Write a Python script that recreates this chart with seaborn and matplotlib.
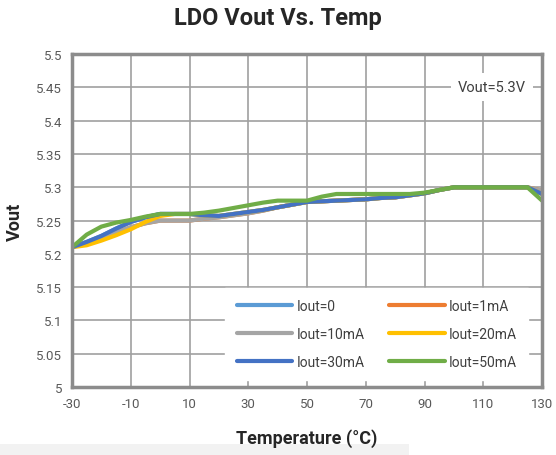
import numpy as np
import pandas as pd
import matplotlib.pyplot as plt
import seaborn as sns
from matplotlib.patches import Rectangle

# temperature sweep (deg C)
temp = list(range(-30, 131, 5))

vout_0ma = [5.210, 5.218, 5.227, 5.238, 5.248, 5.255, 5.260, 5.260, 5.260, 5.258, 5.257,
            5.260, 5.263, 5.266, 5.270, 5.274, 5.278, 5.279, 5.280, 5.281, 5.282, 5.284,
            5.285, 5.288, 5.291, 5.296, 5.300, 5.300, 5.300, 5.300, 5.300, 5.300, 5.290]
vout_1ma = [5.210, 5.217, 5.225, 5.232, 5.240, 5.246, 5.250, 5.250, 5.250, 5.253, 5.255,
            5.258, 5.261, 5.265, 5.270, 5.274, 5.278, 5.279, 5.280, 5.281, 5.282, 5.284,
            5.285, 5.288, 5.291, 5.296, 5.300, 5.300, 5.300, 5.300, 5.300, 5.300, 5.295]
vout_10ma = [5.210, 5.217, 5.225, 5.232, 5.240, 5.246, 5.250, 5.250, 5.250, 5.253, 5.255,
             5.258, 5.261, 5.265, 5.270, 5.274, 5.278, 5.279, 5.280, 5.281, 5.282, 5.284,
             5.285, 5.288, 5.291, 5.296, 5.300, 5.300, 5.300, 5.300, 5.300, 5.300, 5.295]
vout_20ma = [5.210, 5.213, 5.220, 5.228, 5.237, 5.248, 5.257, 5.260, 5.260, 5.258, 5.257,
             5.260, 5.263, 5.266, 5.270, 5.274, 5.278, 5.279, 5.280, 5.281, 5.282, 5.284,
             5.285, 5.288, 5.291, 5.296, 5.300, 5.300, 5.300, 5.300, 5.300, 5.300, 5.290]
vout_30ma = [5.210, 5.218, 5.227, 5.238, 5.248, 5.255, 5.260, 5.260, 5.260, 5.258, 5.257,
             5.260, 5.263, 5.266, 5.270, 5.274, 5.278, 5.279, 5.280, 5.281, 5.282, 5.284,
             5.285, 5.288, 5.291, 5.296, 5.300, 5.300, 5.300, 5.300, 5.300, 5.300, 5.290]
vout_50ma = [5.210, 5.229, 5.241, 5.247, 5.251, 5.256, 5.260, 5.260, 5.260, 5.262, 5.265,
             5.269, 5.273, 5.277, 5.280, 5.280, 5.280, 5.286, 5.290, 5.290, 5.290, 5.290,
             5.290, 5.290, 5.292, 5.296, 5.300, 5.300, 5.300, 5.300, 5.300, 5.300, 5.280]

series = ["Iout=0", "Iout=1mA", "Iout=10mA", "Iout=20mA", "Iout=30mA", "Iout=50mA"]
values = [vout_0ma, vout_1ma, vout_10ma, vout_20ma, vout_30ma, vout_50ma]
colors = ["#5B9BD5", "#ED7D31", "#A5A5A5", "#FFC000", "#4472C4", "#70AD47"]

x_ticks = list(range(-30, 131, 20))
y_ticks = [5, 5.05, 5.1, 5.15, 5.2, 5.25, 5.3, 5.35, 5.4, 5.45, 5.5]
y_ticklabels = ["5", "5.05", "5.1", "5.15", "5.2", "5.25", "5.3", "5.35", "5.4", "5.45", "5.5"]

df = pd.DataFrame({
    "temp": temp * len(series),
    "vout": np.concatenate(values),
    "load": np.repeat(series, len(temp)),
})

sns.set_style("white")
plt.rcParams["font.family"] = ["Roboto", "DejaVu Sans"]

fig = plt.figure(figsize=(5.56, 4.56), dpi=100)
ax = fig.add_axes([0.1295, 0.149, 0.8455, 0.730])

sns.lineplot(data=df, x="temp", y="vout", hue="load", hue_order=series,
             palette=colors, linewidth=3, ax=ax, legend=True)

ax.set_xlim(-30, 130)
ax.set_ylim(5, 5.5)
ax.set_xticks(x_ticks)
ax.set_xticklabels([str(t) for t in x_ticks])
ax.set_yticks(y_ticks)
ax.set_yticklabels(y_ticklabels)
ax.tick_params(axis="both", labelsize=9.5, colors="#595959", length=0, pad=7)
ax.grid(True, color="#A0A0A0", linewidth=1.2)
ax.set_axisbelow(True)
for sp in ax.spines.values():
    sp.set_color("#8C8C8C")
    sp.set_linewidth(2.5)

ax.set_xlabel("Temperature (°C)", fontsize=13, fontweight="bold", labelpad=13)
ax.set_ylabel("Vout", fontsize=13, fontweight="bold", labelpad=9)
fig.suptitle("LDO Vout Vs. Temp", fontsize=17, fontweight="bold", y=0.985)

ax.text(113, 5.45, "Vout=5.3V", fontsize=10.5, color="#404040", ha="center", va="center",
        bbox=dict(facecolor="white", edgecolor="none", pad=5))

handles, labels = ax.get_legend_handles_labels()
order = [0, 2, 4, 1, 3, 5]
leg = ax.legend([handles[i] for i in order], [labels[i] for i in order], ncol=2,
                loc="lower right", bbox_to_anchor=(0.985, 0.0), frameon=True,
                fancybox=False, edgecolor="white", framealpha=1, fontsize=10,
                handlelength=4.0, handletextpad=0.3, columnspacing=1.8,
                labelspacing=1.0, borderpad=0.8)
for line in leg.get_lines():
    line.set_linewidth(3)
    line.set_solid_capstyle("round")
for txt in leg.get_texts():
    txt.set_color("#404040")

fig.patches.append(Rectangle((0, 0), 0.735, 0.025, transform=fig.transFigure,
                             facecolor="#F2F2F2", edgecolor="none", zorder=-1))

fig.savefig("out.png", dpi=100)
